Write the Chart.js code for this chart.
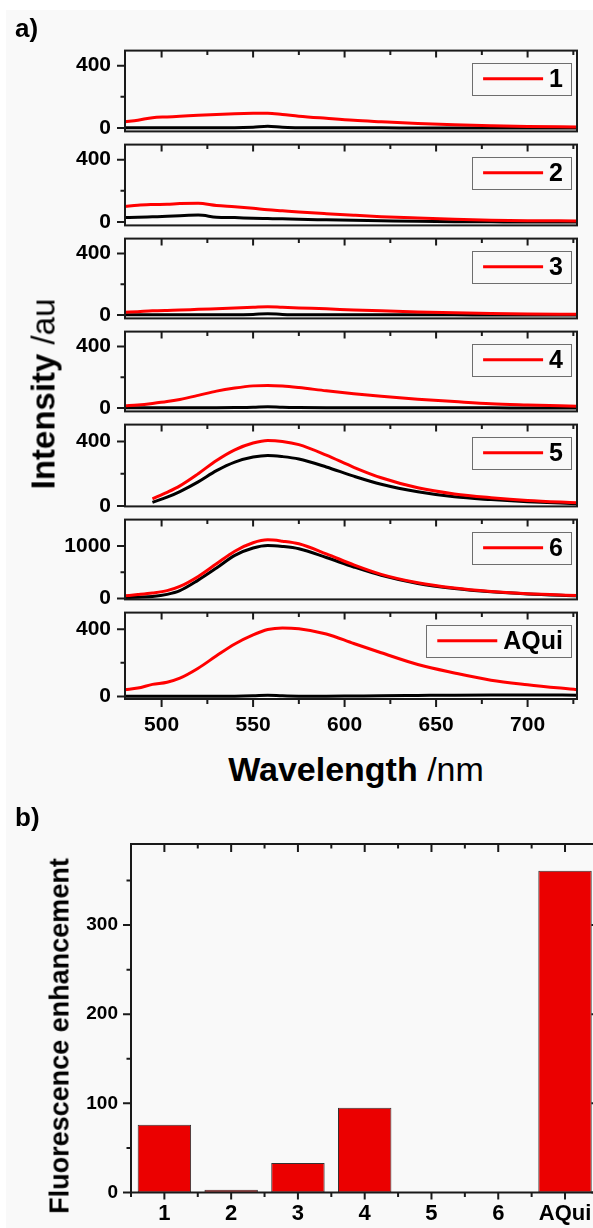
<!DOCTYPE html>
<html><head><meta charset="utf-8">
<script src="https://cdn.jsdelivr.net/npm/chart.js@4.4.1/dist/chart.umd.min.js"></script>
<style>
html,body{margin:0;padding:0;width:593px;height:1228px;overflow:hidden;background:#fff;position:relative;}
#bg{position:absolute;left:6px;top:10px;width:600px;height:1230px;background:#f9f9f9;}
canvas{position:absolute;left:0;}
.t{position:absolute;font-family:'Liberation Sans',Arial,sans-serif;color:#000;white-space:nowrap;line-height:1;z-index:5;}
.r{transform:translate(-50%,-50%) rotate(-90deg);}
.c{transform:translate(-50%,-50%);}
</style></head><body>
<div id="bg"></div>
<div class="t" style="left:15px;top:15px;font-size:26px;font-weight:bold;">a)</div>
<div class="t" style="left:15px;top:804px;font-size:26px;font-weight:bold;">b)</div>
<div class="t r" style="left:43px;top:394px;font-size:33px;"><b>Intensity</b> /au</div>
<div class="t c" style="left:356px;top:769px;font-size:34px;"><b>Wavelength</b> /nm</div>
<div class="t r" style="left:60px;top:1036px;font-size:27px;font-weight:bold;">Fluorescence enhancement</div>
<script>
// ---------- data ----------
const wavelengths = [480, 487, 495, 503, 510, 520, 530, 540, 550, 558, 566, 575, 590, 605, 620, 640, 660, 680, 700, 727];
const red1 = [40, 50, 66, 71, 75, 82, 87, 91, 94, 95, 87, 76, 62, 49, 40, 29, 21, 15, 10, 6];
const black1 = [2, 2, 2, 2, 2, 2, 2, 2, 5, 11, 4, 2, 1, 1, 1, 0, 0, 0, 0, 0];
const red2 = [100, 108, 112, 114, 118, 120, 106, 98, 88, 79, 72, 64, 53, 43, 34, 25, 17, 11, 8, 7];
const black2 = [28, 30, 33, 36, 40, 44, 31, 28, 24, 22, 20, 17, 14, 11, 8, 4, 2, 1, 0, 0];
const red3 = [18, 22, 27, 30, 32, 37, 41, 45, 50, 54, 50, 46, 40, 33, 27, 20, 15, 10, 7, 5];
const black3 = [2, 2, 2, 2, 2, 2, 2, 2, 4, 8, 4, 2, 2, 1, 1, 1, 1, 0, 0, 0];
const red4 = [14, 20, 30, 42, 56, 82, 110, 130, 144, 147, 143, 133, 112, 93, 76, 57, 42, 28, 20, 11];
const black4 = [2, 2, 2, 2, 2, 2, 2, 3, 5, 9, 5, 3, 2, 2, 1, 1, 1, 1, 0, 0];
const red5 = [null, null, 45, 85, 125, 200, 282, 348, 390, 406, 400, 380, 315, 240, 175, 113, 75, 52, 35, 21];
const black5 = [null, null, 23, 55, 90, 150, 219, 272, 303, 313, 306, 291, 242, 185, 135, 88, 57, 40, 27, 15];
const red6 = [53, 75, 105, 150, 230, 420, 661, 900, 1060, 1115, 1090, 1040, 850, 640, 460, 300, 200, 135, 90, 60];
const black6 = [16, 25, 40, 80, 150, 350, 580, 820, 960, 1008, 990, 946, 780, 600, 440, 285, 190, 128, 88, 53];
const redAQui = [40, 50, 72, 85, 109, 168, 242, 312, 366, 398, 408, 403, 372, 315, 260, 190, 140, 97, 70, 40];
const blackAQui = [2, 2, 2, 2, 2, 2, 2, 2, 4, 8, 4, 2, 2, 3, 4, 6, 8, 9, 9, 8];
const panelLabels = ['1', '2', '3', '4', '5', '6', 'AQui'];
const yTicksLow = [0, 400];
const yMinorLow = [200];
const yTicksHigh = [0, 1000];
const yMinorHigh = [500];
const xTicks = [500, 550, 600, 650, 700];
const xMinorTicks = [525, 575, 625, 675, 725];
const barCategories = ['1', '2', '3', '4', '5', '6', 'AQui'];
const barValues = [76, 3, 33, 95, 0.6, 0.4, 361];
const barYTicks = [0, 100, 200, 300];
const barYMinor = [50, 150, 250, 350];

// ---------- layout ----------
const FONT = "'Liberation Sans', Arial, sans-serif";
Chart.defaults.font.family = FONT;
const reds = [red1, red2, red3, red4, red5, red6, redAQui];
const blacks = [black1, black2, black3, black4, black5, black6, blackAQui];
const panelTops = [44, 138, 232, 325, 418, 513, 606];
const panelHeights = [94, 94, 93, 93, 95, 93, 93];
const yRanges = [[-22, 497], [-22, 497], [-22, 497], [-22, 497], [-2, 504], [-16, 1500], [-15, 499]];
const toXY = arr => wavelengths.map((w, i) => ({x: w, y: arr[i]}));

const frameA = {
  id: 'frameA',
  afterDraw(chart, args, o) {
    const {ctx, chartArea: a, scales: {x, y}} = chart;
    ctx.save();
    ctx.strokeStyle = '#1a1a1a';
    ctx.lineWidth = 2;
    ctx.strokeRect(a.left, a.top, a.right - a.left, a.bottom - a.top);
    ctx.beginPath();
    o.yMajor.forEach(v => { const p = y.getPixelForValue(v); ctx.moveTo(a.left - 8, p); ctx.lineTo(a.left, p); });
    o.yMinor.forEach(v => { const p = y.getPixelForValue(v); ctx.moveTo(a.left - 4.5, p); ctx.lineTo(a.left, p); });
    xTicks.forEach(v => { const p = x.getPixelForValue(v); ctx.moveTo(p, a.top); ctx.lineTo(p, a.top + 7); });
    xMinorTicks.forEach(v => { if (v <= x.max) { const p = x.getPixelForValue(v); ctx.moveTo(p, a.top); ctx.lineTo(p, a.top + 4.5); } });
    if (o.last) {
      xTicks.forEach(v => { const p = x.getPixelForValue(v); ctx.moveTo(p, a.bottom); ctx.lineTo(p, a.bottom + 8); });
      xMinorTicks.forEach(v => { if (v <= x.max) { const p = x.getPixelForValue(v); ctx.moveTo(p, a.bottom); ctx.lineTo(p, a.bottom + 5); } });
    }
    ctx.stroke();
    // legend box
    ctx.font = 'bold 25px ' + FONT;
    const tw = ctx.measureText(o.label).width;
    const bw = 11 + 60 + 6 + tw + 8, bh = 31.5;
    const bx = a.right - 6 - bw, by = a.top + 12;
    ctx.lineWidth = 1;
    ctx.strokeStyle = '#6e6e6e';
    ctx.strokeRect(Math.round(bx) + 0.5, Math.round(by) + 0.5, Math.round(bw), Math.round(bh));
    ctx.beginPath();
    ctx.strokeStyle = '#ff0000';
    ctx.lineWidth = 3;
    ctx.moveTo(bx + 11, by + bh / 2 + 0.5);
    ctx.lineTo(bx + 71, by + bh / 2 + 0.5);
    ctx.stroke();
    ctx.fillStyle = '#000';
    ctx.textBaseline = 'middle';
    ctx.textAlign = 'left';
    ctx.fillText(o.label, bx + 77, by + bh / 2 + 1.5);
    ctx.restore();
  }
};

panelLabels.forEach((label, i) => {
  const last = i === panelLabels.length - 1;
  const cv = document.createElement('canvas');
  const h = 20 + panelHeights[i] + (last ? 45 : 20);
  cv.width = 593; cv.height = h;
  cv.style.top = (panelTops[i] - 20) + 'px';
  cv.style.width = '593px'; cv.style.height = h + 'px';
  document.body.appendChild(cv);
  const high = i === 5;
  new Chart(cv, {
    type: 'line',
    data: {datasets: [
      {data: toXY(reds[i]), borderColor: '#ff0000', borderWidth: 3, pointRadius: 0, cubicInterpolationMode: 'monotone', fill: false},
      {data: toXY(blacks[i]), borderColor: '#000000', borderWidth: 3, pointRadius: 0, cubicInterpolationMode: 'monotone', fill: false}
    ]},
    options: {
      responsive: false, animation: false, devicePixelRatio: 1,
      events: [],
      layout: {padding: {top: 20, right: 16, left: 0, bottom: last ? 0 : 20}},
      plugins: {legend: {display: false}, tooltip: {enabled: false},
        frameA: {label, last, yMajor: high ? yTicksHigh : yTicksLow, yMinor: high ? yMinorHigh : yMinorLow}},
      scales: {
        x: {type: 'linear', min: 480, max: 727,
          grid: {display: false, drawTicks: false}, border: {display: false},
          ticks: {display: last, font: {size: 21, weight: 'bold'}, color: '#000', padding: 14,
            maxRotation: 0, autoSkip: false, callback: v => String(v)},
          afterBuildTicks: s => { s.ticks = xTicks.map(v => ({value: v})); },
          afterFit: s => { s.height = last ? 45 : 0; }},
        y: {type: 'linear', min: yRanges[i][0], max: yRanges[i][1],
          grid: {display: false, drawTicks: false}, border: {display: false},
          ticks: {font: {size: 21, weight: 'bold'}, color: '#000', padding: 14, autoSkip: false, callback: v => String(v)},
          afterBuildTicks: s => { s.ticks = (high ? yTicksHigh : yTicksLow).map(v => ({value: v})); },
          afterFit: s => { s.width = 125; }}
      }
    },
    plugins: [frameA]
  });
});

// ---------- bar chart ----------
const frameB = {
  id: 'frameB',
  afterDraw(chart) {
    const {ctx, chartArea: a, scales: {x, y}} = chart;
    ctx.save();
    ctx.strokeStyle = '#1a1a1a';
    ctx.lineWidth = 2;
    ctx.strokeRect(a.left, a.top, a.right - a.left, a.bottom - a.top);
    ctx.beginPath();
    barYTicks.forEach(v => { const p = y.getPixelForValue(v); ctx.moveTo(a.left - 8, p); ctx.lineTo(a.left, p); ctx.moveTo(a.right, p); ctx.lineTo(a.right - 7, p); });
    barYMinor.forEach(v => { const p = y.getPixelForValue(v); ctx.moveTo(a.left - 4.5, p); ctx.lineTo(a.left, p); ctx.moveTo(a.right, p); ctx.lineTo(a.right - 4.5, p); });
    const half = (x.getPixelForValue(1) - x.getPixelForValue(0)) / 2;
    barCategories.forEach((c, i) => {
      const p = x.getPixelForValue(i);
      ctx.moveTo(p, a.top); ctx.lineTo(p, a.top + 8);
      ctx.moveTo(p, a.bottom); ctx.lineTo(p, a.bottom + 7);
      const m = p - half;
      ctx.moveTo(m, a.top); ctx.lineTo(m, a.top + 4.5);
      ctx.moveTo(m, a.bottom); ctx.lineTo(m, a.bottom + 4.5);
    });
    ctx.stroke();
    ctx.restore();
  }
};
const bc = document.createElement('canvas');
bc.width = 610; bc.height = 428;
bc.style.top = '800px'; bc.style.width = '610px'; bc.style.height = '428px';
document.body.appendChild(bc);
new Chart(bc, {
  type: 'bar',
  data: {labels: barCategories, datasets: [{data: barValues, backgroundColor: '#eb0000', borderColor: '#333333',
    borderWidth: 1, borderSkipped: false, barPercentage: 0.8, categoryPercentage: 1}]},
  options: {
    responsive: false, animation: false, devicePixelRatio: 1, events: [],
    layout: {padding: {top: 44, right: 11.6, left: 0, bottom: 0}},
    plugins: {legend: {display: false}, tooltip: {enabled: false}},
    scales: {
      x: {grid: {display: false, drawTicks: false}, border: {display: false},
        ticks: {font: {size: 22, weight: 'bold'}, color: '#000', padding: 8, maxRotation: 0, autoSkip: false},
        afterFit: s => { s.height = 35.5; }},
      y: {type: 'linear', min: 0, max: 391,
        grid: {display: false, drawTicks: false}, border: {display: false},
        ticks: {font: {size: 19, weight: 'bold'}, color: '#000', padding: 13, callback: v => String(v)},
        afterBuildTicks: s => { s.ticks = barYTicks.map(v => ({value: v})); },
        afterFit: s => { s.width = 131; }}
    }
  },
  plugins: [frameB]
});
</script>
</body></html>
